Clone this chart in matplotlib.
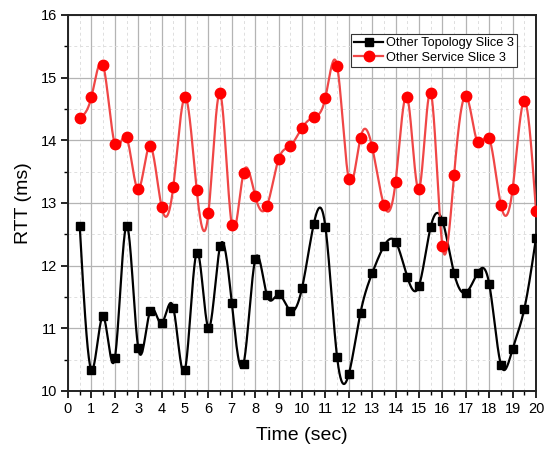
import numpy as np
import matplotlib
matplotlib.use("Agg")
import matplotlib.pyplot as plt
from matplotlib.ticker import MultipleLocator

plt.rcParams['font.family'] = ['Liberation Sans', 'DejaVu Sans']

time_s = [0.5, 1, 1.5, 2, 2.5, 3, 3.5, 4, 4.5, 5, 5.5, 6, 6.5, 7, 7.5, 8, 8.5, 9, 9.5, 10,
          10.5, 11, 11.5, 12, 12.5, 13, 13.5, 14, 14.5, 15, 15.5, 16, 16.5, 17, 17.5, 18,
          18.5, 19, 19.5, 20]

topology_rtt = [12.64, 10.34, 11.19, 10.52, 12.64, 10.69, 11.27, 11.08, 11.33, 10.34,
                12.21, 11.01, 12.31, 11.40, 10.43, 12.10, 11.53, 11.54, 11.28, 11.64,
                12.66, 12.62, 10.54, 10.27, 11.25, 11.88, 12.31, 12.38, 11.82, 11.68,
                12.62, 12.72, 11.88, 11.57, 11.88, 11.71, 10.42, 10.67, 11.31, 12.44]

service_rtt = [14.36, 14.69, 15.20, 13.94, 14.05, 13.22, 13.91, 12.94, 13.26, 14.69,
               13.21, 12.84, 14.75, 12.65, 13.48, 13.11, 12.95, 13.70, 13.91, 14.20,
               14.37, 14.68, 15.19, 13.38, 14.04, 13.89, 12.97, 13.34, 14.69, 13.22,
               14.76, 12.31, 13.45, 14.71, 13.97, 14.03, 12.97, 13.22, 14.63, 12.87]

series_labels = ["Other Topology Slice 3", "Other Service Slice 3"]


def natural_spline(x, y, n=2000):
    """Natural cubic spline through (x, y), evaluated on a dense grid."""
    x = np.asarray(x, float)
    y = np.asarray(y, float)
    k = len(x)
    h = np.diff(x)
    A = np.zeros((k, k))
    r = np.zeros(k)
    A[0, 0] = A[-1, -1] = 1.0
    for i in range(1, k - 1):
        A[i, i - 1] = h[i - 1]
        A[i, i] = 2 * (h[i - 1] + h[i])
        A[i, i + 1] = h[i]
        r[i] = 3 * ((y[i + 1] - y[i]) / h[i] - (y[i] - y[i - 1]) / h[i - 1])
    c = np.linalg.solve(A, r)
    b = (np.diff(y) / h) - h * (2 * c[:-1] + c[1:]) / 3
    d = np.diff(c) / (3 * h)
    xs = np.linspace(x[0], x[-1], n)
    idx = np.clip(np.searchsorted(x, xs) - 1, 0, k - 2)
    t = xs - x[idx]
    ys = y[idx] + b[idx] * t + c[idx] * t ** 2 + d[idx] * t ** 3
    return xs, ys


fig = plt.figure(figsize=(5.49, 4.54), dpi=100)
ax = fig.add_axes([68 / 549, 1 - 391 / 454, (536 - 68) / 549, (391 - 15) / 454])

ax.set_xlim(0, 20)
ax.set_ylim(10, 16)
ax.xaxis.set_major_locator(MultipleLocator(1))
ax.xaxis.set_minor_locator(MultipleLocator(0.5))
ax.yaxis.set_major_locator(MultipleLocator(1))
ax.yaxis.set_minor_locator(MultipleLocator(0.5))

ax.grid(which='major', color='#b4b4b4', linewidth=0.9, linestyle='-', zorder=0)
ax.grid(which='minor', color='#dedede', linewidth=0.7, linestyle=(0, (3, 3)), zorder=0)
ax.set_axisbelow(True)

# black series: topology slice
xs, ys = natural_spline(time_s, topology_rtt)
ax.plot(xs, ys, color='black', linewidth=1.6, zorder=3)
ax.plot(time_s, topology_rtt, linestyle='none', marker='s', markersize=6.2,
        color='black', zorder=4)

# red series: service slice
xs, ys = natural_spline(time_s, service_rtt)
ax.plot(xs, ys, color='#f04646', linewidth=1.6, zorder=3)
ax.plot(time_s, service_rtt, linestyle='none', marker='o', markersize=7.5,
        color='#ff0000', zorder=4)

# legend proxies
h1, = ax.plot([], [], color='black', linewidth=1.6, marker='s', markersize=6.2)
h2, = ax.plot([], [], color='#f04646', linewidth=1.6, marker='o', markersize=7.5,
              markerfacecolor='#ff0000', markeredgecolor='#ff0000')
leg = ax.legend([h1, h2], series_labels, loc='upper right',
                bbox_to_anchor=(517 / 549, 1 - 34 / 454), bbox_transform=fig.transFigure,
                fontsize=9.2, frameon=True, fancybox=False, framealpha=1,
                edgecolor='#333333', handlelength=2.3, handletextpad=0.2,
                borderpad=0.25, labelspacing=0.2, borderaxespad=0)
leg.get_frame().set_linewidth(0.8)

for s in ax.spines.values():
    s.set_linewidth(1.4)
    s.set_color('#222222')

ax.tick_params(which='major', direction='out', length=5, width=1.2,
               labelsize=10.5, top=False, right=False, pad=3)
ax.tick_params(which='minor', direction='out', length=3, width=1.0,
               top=False, right=False)

ax.set_xlabel('Time (sec)', fontsize=14, labelpad=8)
ax.set_ylabel('RTT (ms)', fontsize=14, labelpad=6)

fig.savefig('out.png', dpi=100)
